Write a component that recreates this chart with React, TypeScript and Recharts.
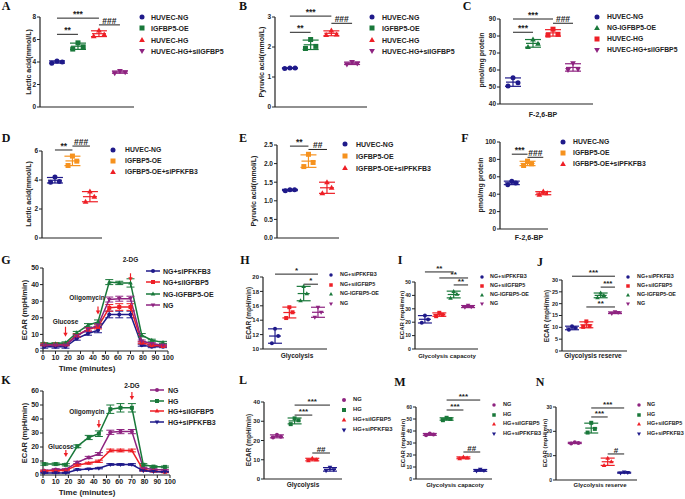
import React from "react";
import {
  ScatterChart, Scatter, LineChart, Line, XAxis, YAxis, ErrorBar,
  ReferenceLine, ReferenceDot,
} from "recharts";

const SANS = '"Liberation Sans", Arial, Helvetica, sans-serif';
const SERIF = '"Liberation Serif", "Times New Roman", serif';
const INK = "#222";
const NAVY = "#1f1a8a";
const GREEN = "#19783a";
const RED = "#ee1f26";
const PURPLE = "#8e2380";
const ORANGE = "#f6921e";

type Shape = "circle" | "square" | "tri" | "itri";

// ---------- A: lactic acid, HG / siIGFBP5
const A_NAMES = ["HUVEC-NG", "IGFBP5-OE", "HUVEC-HG", "HUVEC-HG+siIGFBP5"];
const A_VALUES = [[3.9, 4.1, 4.0], [5.15, 5.7, 5.35], [6.3, 6.8, 6.45], [3.0, 3.2, 3.1]];
const A_TICKS = [0, 2, 4, 6, 8];

// ---------- B: pyruvic acid
const B_NAMES = ["HUVEC-NG", "IGFBP5-OE", "HUVEC-HG", "HUVEC-HG+siIGFBP5"];
const B_VALUES = [[1.28, 1.3, 1.3], [1.95, 2.25, 2.02], [2.4, 2.55, 2.42], [1.42, 1.5, 1.45]];
const B_TICKS = [0, 1, 2, 3];

// ---------- C: F-2,6-BP
const C_NAMES = ["HUVEC-NG", "NG-IGFBP5-OE", "HUVEC-HG", "HUVEC-HG+siIGFBP5"];
const C_VALUES = [[50.6, 55.5, 52.5], [73.5, 78, 75.5], [80.5, 84, 81], [60, 64, 60.5]];
const C_TICKS = [40, 50, 60, 70, 80, 90];

// ---------- D/E/F: siPFKFB3 rescue
const DEF_NAMES = ["HUVEC-NG", "IGFBP5-OE", "IGFBP5-OE+siPFKFB3"];
const D_VALUES = [[3.85, 4.2, 3.9], [5.0, 5.65, 5.3], [2.5, 3.2, 2.85]];
const D_TICKS = [0, 2, 4, 6];
const E_VALUES = [[1.27, 1.3, 1.3], [1.92, 2.25, 2.03], [1.2, 1.5, 1.35]];
const E_TICKS = [0, 0.5, 1, 1.5, 2, 2.5];
const F_VALUES = [[51, 55, 53], [73, 78, 75], [39.5, 43, 41]];
const F_TICKS = [0, 20, 40, 60, 80, 100];

// ---------- H/I/J: NG groups
const HIJ_NAMES = ["NG+siPFKFB3", "NG+siIGFBP5", "NG-IGFBP5-OE", "NG"];
const H_VALUES = [[10.8, 12.8, 11.8], [14.3, 15.8, 15.1], [16.7, 18.7, 17.7], [14.4, 15.8, 15.1]];
const H_TICKS = [10, 12, 14, 16, 18, 20];
const I_VALUES = [[19.5, 25, 22], [24.5, 27, 25.5], [38, 43, 41], [31, 32.5, 31.5]];
const I_TICKS = [0, 10, 20, 30, 40, 50];
const J_VALUES = [[9, 10.5, 9.7], [10.2, 12.5, 10.5], [22.5, 24.5, 23.5], [15.8, 16.5, 16.2]];
const J_TICKS = [0, 5, 10, 15, 20, 25, 30];

// ---------- L/M/N: HG groups
const LMN_NAMES = ["NG", "HG", "HG+siIGFBP5", "HG+siPFKFB3"];
const L_VALUES = [[21.5, 23, 22], [28.5, 31.5, 30.5], [9.5, 10.8, 10], [4.2, 6, 4.8]];
const L_TICKS = [0, 10, 20, 30, 40];
const M_VALUES = [[36.5, 38, 37], [49, 51, 50], [17, 18.5, 17.5], [6.5, 8, 7]];
const M_TICKS = [0, 10, 20, 30, 40, 50, 60];
const N_VALUES = [[15, 15.5, 15.2], [19.5, 23.5, 21], [6, 9, 7.5], [2.8, 3.2, 3]];
const N_TICKS = [0, 10, 20, 30];

// ---------- G/K: ECAR time course
const TIME = [1, 10, 18, 27, 36, 44, 53, 61, 70, 79, 87, 96];
const TIME_TICKS = [0, 10, 20, 30, 40, 50, 60, 70, 80, 90, 100];
const G_NAMES = ["NG+siPFKFB3", "NG+siIGFBP5", "NG-IGFBP5-OE", "NG"];
const G_SI_PFKFB3 = [2.5, 2.5, 2.5, 7.5, 10.5, 12.5, 22, 22, 22, 3.5, 2.5, 2.5];
const G_SI_PFKFB3_SD = [0.8, 0.8, 0.8, 1, 1, 1.5, 2, 2, 2, 0.6, 0.5, 0.5];
const G_SI_IGFBP5 = [4, 4, 4, 9.5, 13, 14.5, 26, 26.5, 26.5, 5, 3.5, 3];
const G_SI_IGFBP5_SD = [0.6, 0.6, 0.6, 1, 1, 1.2, 2, 2, 2, 0.6, 0.5, 0.5];
const G_OE = [4.5, 4.5, 5, 11, 15.5, 17.5, 41.5, 41, 41, 9.5, 6.5, 5.2];
const G_OE_SD = [0.5, 0.5, 0.5, 0.8, 1, 1.2, 1.5, 1, 2.5, 1, 0.6, 0.6];
const G_NG = [3.5, 3.5, 3.5, 9, 13, 15.5, 31, 31.5, 31.5, 6, 4.5, 3.5];
const G_NG_SD = [0.5, 0.5, 0.5, 0.8, 1, 1, 1.5, 1.5, 1.5, 0.6, 0.5, 0.5];
const G_TICKS = [0, 10, 20, 30, 40, 50];

const K_NAMES = ["NG", "HG", "HG+siIGFBP5", "HG+siPFKFB3"];
const K_NG = [3, 4, 4, 9, 12.5, 15, 30.5, 31, 31, 5, 4, 3.5];
const K_NG_SD = [0.5, 0.5, 0.5, 0.8, 0.8, 1, 1.5, 1.5, 1.5, 0.5, 0.5, 0.5];
const K_HG = [7.8, 7.8, 7.3, 20.5, 26.8, 29.5, 47, 48, 48, 7.3, 6, 5.8];
const K_HG_SD = [0.8, 0.8, 0.8, 1, 1.5, 2, 3, 3, 3, 0.8, 0.6, 0.6];
const K_SI_IGFBP5 = [3, 3, 3.3, 7, 8.5, 9.8, 17.5, 17.5, 17.5, 3.5, 2.7, 2];
const K_SI_IGFBP5_SD = [0.4, 0.4, 0.4, 0.6, 0.6, 0.8, 1, 1, 1, 0.4, 0.4, 0.4];
const K_SI_PFKFB3 = [1.5, 1.5, 1.5, 3.8, 4.3, 4.8, 7.5, 7.5, 7.5, 3, 2.5, 2.2];
const K_SI_PFKFB3_SD = [0.3, 0.3, 0.3, 0.4, 0.4, 0.4, 0.6, 0.6, 0.6, 0.3, 0.3, 0.3];
const K_TICKS = [0, 10, 20, 30, 40, 50, 60];

const JITTER = [-1, 0, 1];

const avg = (v: number[]) => v.reduce((a, b) => a + b, 0) / v.length;
const sdev = (v: number[]) => {
  const m = avg(v);
  return Math.sqrt(v.reduce((a, b) => a + (b - m) * (b - m), 0) / (v.length - 1));
};

function Marker({ shape, cx, cy, size, color }: { shape: Shape; cx: number; cy: number; size: number; color: string }) {
  const s = size / 2;
  if (shape === "circle") return <circle cx={cx} cy={cy} r={s} fill={color} />;
  if (shape === "square") return <rect x={cx - s} y={cy - s} width={size} height={size} fill={color} />;
  if (shape === "tri")
    return <polygon points={`${cx},${cy - s * 1.2} ${cx - s * 1.15},${cy + s * 0.8} ${cx + s * 1.15},${cy + s * 0.8}`} fill={color} />;
  return <polygon points={`${cx},${cy + s * 1.2} ${cx - s * 1.15},${cy - s * 0.8} ${cx + s * 1.15},${cy - s * 0.8}`} fill={color} />;
}

interface Sig { a: number; b: number; y: number; t: string }
interface Legend { mx: number; tx: number; y0: number; gap: number; fs: number; ms: number; line?: boolean }

function LegendBlock({ lg, names, shapes, colors }: { lg: Legend; names: string[]; shapes: Shape[]; colors: string[] }) {
  return (
    <>
      {names.map((n, i) => (
        <div key={n} style={{ position: "absolute", left: 0, top: lg.y0 + i * lg.gap, width: 685, height: 0 }}>
          <svg style={{ position: "absolute", left: lg.mx - 8, top: -5 }} width={16} height={10}>
            {lg.line && <line x1={1} x2={15} y1={5} y2={5} stroke={colors[i]} strokeWidth={1.5} />}
            <Marker shape={shapes[i]} cx={8} cy={5} size={lg.ms} color={colors[i]} />
          </svg>
          <span style={{ position: "absolute", left: lg.tx, top: 0, transform: "translateY(-50%)", fontSize: lg.fs, fontWeight: 700, color: INK, whiteSpace: "nowrap", lineHeight: 1 }}>
            {n}
          </span>
        </div>
      ))}
    </>
  );
}

function Letter({ t, at }: { t: string; at: [number, number] }) {
  return (
    <div style={{ position: "absolute", left: at[0], top: at[1], transform: "translate(-50%,-50%)", fontFamily: SERIF, fontWeight: 700, fontSize: 12, color: "#111", lineHeight: 1 }}>
      {t}
    </div>
  );
}

function YTitle({ t, at, fs }: { t: string; at: [number, number]; fs: number }) {
  return (
    <div style={{ position: "absolute", left: at[0], top: at[1], transform: "translate(-50%,-50%) rotate(-90deg)", fontSize: fs, fontWeight: 700, color: INK, whiteSpace: "nowrap", lineHeight: 1 }}>
      {t}
    </div>
  );
}

function XTitle({ t, at, fs }: { t: string; at: [number, number]; fs: number }) {
  return (
    <div style={{ position: "absolute", left: at[0], top: at[1], transform: "translate(-50%,-50%)", fontSize: fs, fontWeight: 700, color: INK, whiteSpace: "nowrap", lineHeight: 1 }}>
      {t}
    </div>
  );
}

interface DotSpec {
  letter: string; letterAt: [number, number];
  box: [number, number, number, number];
  xDomain: [number, number];
  yTicks: number[];
  decimals?: number;
  yLabel: string; yLabelAt: [number, number];
  xLabel?: string; xLabelAt?: [number, number];
  names: string[]; shapes: Shape[]; colors: string[]; values: number[][];
  sigs: Sig[];
  legend: Legend;
  ms: number; spread: number; cap: number; meanW: number; fs: number; titleFs: number; sigFs: number;
}

function DotPanel({ s }: { s: DotSpec }) {
  const [x0, x1, yT, yB] = s.box;
  const L = 40, R = 4, T = 30, B = 6;
  const yDomain: [number, number] = [s.yTicks[0], s.yTicks[s.yTicks.length - 1]];
  return (
    <>
      <div style={{ position: "absolute", left: x0 - L, top: yT - T }}>
        <ScatterChart width={x1 - x0 + L + R} height={yB - yT + T + B} margin={{ top: T, right: R, bottom: 0, left: 0 }}>
          <XAxis type="number" dataKey="x" domain={s.xDomain} allowDataOverflow tick={false} tickLine={false}
            axisLine={{ stroke: INK, strokeWidth: 1.2 }} height={B} />
          <YAxis type="number" dataKey="y" domain={yDomain} ticks={s.yTicks} interval={0} allowDataOverflow width={L}
            tickSize={3} tickMargin={1} axisLine={{ stroke: INK, strokeWidth: 1.2 }} tickLine={{ stroke: INK }}
            tick={{ fontSize: s.fs, fontWeight: 700, fill: INK, fontFamily: SANS }}
            tickFormatter={(v: number) => (s.decimals ? v.toFixed(s.decimals) : String(v))} />
          {s.values.map((vals, gi) => (
            <Scatter key={"p" + gi} data={vals.map((v, k) => ({ x: gi + 1 + JITTER[k] * s.spread, y: v }))}
              isAnimationActive={false}
              shape={(p: any) => <Marker shape={s.shapes[gi]} cx={p.cx} cy={p.cy} size={s.ms} color={s.colors[gi]} />} />
          ))}
          {s.values.map((vals, gi) => (
            <Scatter key={"m" + gi} data={[{ x: gi + 1, y: avg(vals), sd: sdev(vals) }]} isAnimationActive={false}
              shape={(p: any) => <line x1={p.cx - s.meanW / 2} x2={p.cx + s.meanW / 2} y1={p.cy} y2={p.cy} stroke={s.colors[gi]} strokeWidth={1.2} />}>
              <ErrorBar dataKey="sd" direction="y" width={s.cap} stroke={s.colors[gi]} strokeWidth={1.2} />
            </Scatter>
          ))}
          {s.sigs.map((g, i) => (
            <ReferenceLine key={"s" + i} segment={[{ x: g.a, y: g.y }, { x: g.b, y: g.y }]} ifOverflow="visible"
              stroke={INK} strokeWidth={1}
              label={{ value: g.t, position: "top", offset: 1, fontSize: s.sigFs, fontWeight: 700, fill: INK, fontFamily: SANS }} />
          ))}
        </ScatterChart>
      </div>
      <Letter t={s.letter} at={s.letterAt} />
      <YTitle t={s.yLabel} at={s.yLabelAt} fs={s.titleFs} />
      {s.xLabel && s.xLabelAt && <XTitle t={s.xLabel} at={s.xLabelAt} fs={s.titleFs} />}
      <LegendBlock lg={s.legend} names={s.names} shapes={s.shapes} colors={s.colors} />
    </>
  );
}

interface Series { shape: Shape; color: string; values: number[]; sd: number[] }
interface Note { x: number; y: number; len: number; gap: number; dx: number; t: string }
interface TimeSpec {
  letter: string; letterAt: [number, number];
  box: [number, number, number, number];
  yTicks: number[];
  names: string[];
  series: Series[];
  notes: Note[];
  legend: Legend;
  yLabelAt: [number, number]; xLabelAt: [number, number];
}

function TimePanel({ s }: { s: TimeSpec }) {
  const [x0, x1, yT, yB] = s.box;
  const L = 40, R = 6, T = 30, B = 14;
  const data = TIME.map((t, i) => {
    const row: Record<string, number> = { t };
    s.series.forEach((sr, k) => { row["v" + k] = sr.values[i]; row["e" + k] = sr.sd[i]; });
    return row;
  });
  const tickStyle = { fontSize: 7, fontWeight: 700, fill: INK, fontFamily: SANS };
  return (
    <>
      <div style={{ position: "absolute", left: x0 - L, top: yT - T }}>
        <LineChart width={x1 - x0 + L + R} height={yB - yT + T + B} data={data} margin={{ top: T, right: R, bottom: 0, left: 0 }}>
          <XAxis type="number" dataKey="t" domain={[0, 100]} ticks={TIME_TICKS} interval={0} height={B}
            tickSize={3} tickMargin={1} axisLine={{ stroke: INK, strokeWidth: 1.2 }} tickLine={{ stroke: INK }} tick={tickStyle} />
          <YAxis type="number" domain={[0, s.yTicks[s.yTicks.length - 1]]} ticks={s.yTicks} interval={0} width={L}
            tickSize={3} tickMargin={1} axisLine={{ stroke: INK, strokeWidth: 1.2 }} tickLine={{ stroke: INK }} tick={tickStyle} />
          {s.series.map((sr, k) => (
            <Line key={k} dataKey={"v" + k} stroke={sr.color} strokeWidth={1.5} isAnimationActive={false}
              dot={(p: any) => <Marker key={`${k}-${p.index}`} shape={sr.shape} cx={p.cx} cy={p.cy} size={4} color={sr.color} />}>
              <ErrorBar dataKey={"e" + k} direction="y" width={4} stroke={sr.color} strokeWidth={1} />
            </Line>
          ))}
          {s.notes.map((n, i) => (
            <ReferenceDot key={"n" + i} x={n.x} y={n.y} r={0} ifOverflow="visible"
              shape={(p: any) => (
                <g>
                  <line x1={p.cx} x2={p.cx} y1={p.cy - n.len} y2={p.cy - 2} stroke={RED} strokeWidth={1.2} />
                  <polygon points={`${p.cx},${p.cy} ${p.cx - 2.2},${p.cy - 4} ${p.cx + 2.2},${p.cy - 4}`} fill={RED} />
                  <text x={p.cx + n.dx} y={p.cy - n.gap} textAnchor="middle" dominantBaseline="middle"
                    fontSize={6.5} fontWeight={700} fill={INK} fontFamily={SANS}>{n.t}</text>
                </g>
              )} />
          ))}
        </LineChart>
      </div>
      <Letter t={s.letter} at={s.letterAt} />
      <YTitle t="ECAR (mpH/min)" at={s.yLabelAt} fs={7.5} />
      <XTitle t="Time (minutes)" at={s.xLabelAt} fs={8} />
      <LegendBlock lg={s.legend} names={s.names} shapes={s.series.map((x) => x.shape)} colors={s.series.map((x) => x.color)} />
    </>
  );
}

const SH4: Shape[] = ["circle", "square", "tri", "itri"];
const COL_A = [NAVY, GREEN, RED, PURPLE];
const SH_C: Shape[] = ["circle", "tri", "square", "itri"];
const SH3: Shape[] = ["circle", "square", "tri"];
const COL_DEF = [NAVY, ORANGE, RED];
const COL_HIJ = [NAVY, RED, GREEN, PURPLE];
const COL_LMN = [PURPLE, GREEN, RED, NAVY];
const BIG = { ms: 5, spread: 0.25, cap: 8, meanW: 14, fs: 6.5, titleFs: 7, sigFs: 8.5 };
const SMALL = { ms: 4, spread: 0.22, cap: 7, meanW: 12, fs: 6, titleFs: 6.5, sigFs: 8 };

const DOTS: DotSpec[] = [
  {
    letter: "A", letterAt: [6, 6], box: [40, 134, 17, 107], xDomain: [0.19, 4.67], yTicks: A_TICKS,
    yLabel: "Lactic acid(mmol/L)", yLabelAt: [28, 62],
    names: A_NAMES, shapes: SH4, colors: COL_A, values: A_VALUES,
    sigs: [{ a: 1, b: 3, y: 7.9, t: "***" }, { a: 1, b: 2, y: 6.46, t: "**" }, { a: 3, b: 4, y: 7.3, t: "###" }],
    legend: { mx: 142, tx: 151, y0: 17, gap: 11.3, fs: 7, ms: 5 }, ...BIG,
  },
  {
    letter: "B", letterAt: [243, 6], box: [275, 367, 17, 107], xDomain: [0.28, 4.72], yTicks: B_TICKS,
    yLabel: "Pyruvic acid(mmol/L)", yLabelAt: [261, 62],
    names: B_NAMES, shapes: SH4, colors: COL_A, values: B_VALUES,
    sigs: [{ a: 1, b: 3, y: 3.03, t: "***" }, { a: 1, b: 2, y: 2.49, t: "**" }, { a: 3, b: 4, y: 2.79, t: "###" }],
    legend: { mx: 372, tx: 382, y0: 17, gap: 11.3, fs: 7, ms: 5 }, ...BIG,
  },
  {
    letter: "C", letterAt: [467, 6], box: [500, 593, 19, 104], xDomain: [0.35, 5.0], yTicks: C_TICKS,
    yLabel: "pmol/mg protein", yLabelAt: [481, 60], xLabel: "F-2,6-BP", xLabelAt: [543, 114],
    names: C_NAMES, shapes: SH_C, colors: COL_A, values: C_VALUES,
    sigs: [{ a: 1, b: 3, y: 90, t: "***" }, { a: 1, b: 2, y: 82.2, t: "***" }, { a: 3, b: 4, y: 87.5, t: "###" }],
    legend: { mx: 597, tx: 607, y0: 17, gap: 11, fs: 6.8, ms: 5 }, ...BIG,
  },
  {
    letter: "D", letterAt: [6, 138], box: [42, 102, 151, 238], xDomain: [0.26, 3.69], yTicks: D_TICKS,
    yLabel: "Lactic acid(mmol/L)", yLabelAt: [28, 194],
    names: DEF_NAMES, shapes: SH3, colors: COL_DEF, values: D_VALUES,
    sigs: [{ a: 1, b: 2, y: 6.07, t: "**" }, { a: 2, b: 3, y: 6.34, t: "###" }],
    legend: { mx: 113, tx: 125, y0: 150, gap: 11, fs: 6.8, ms: 5 }, ...BIG,
  },
  {
    letter: "E", letterAt: [243, 138], box: [277, 339, 145, 238], xDomain: [0.3, 3.65], yTicks: E_TICKS, decimals: 1,
    yLabel: "Pyruvic acid(mmol/L)", yLabelAt: [253, 191],
    names: DEF_NAMES, shapes: SH3, colors: COL_DEF, values: E_VALUES,
    sigs: [{ a: 1, b: 2, y: 2.47, t: "**" }, { a: 2, b: 3, y: 2.38, t: "##" }],
    legend: { mx: 345, tx: 356, y0: 144, gap: 12, fs: 7, ms: 5 }, ...BIG,
  },
  {
    letter: "F", letterAt: [465, 138], box: [500, 548, 142, 229], xDomain: [0.25, 3.3], yTicks: F_TICKS,
    yLabel: "pmol/mg protein", yLabelAt: [480, 185], xLabel: "F-2,6-BP", xLabelAt: [529, 237],
    names: DEF_NAMES, shapes: SH3, colors: COL_DEF, values: F_VALUES,
    sigs: [{ a: 1, b: 2, y: 86, t: "***" }, { a: 2, b: 3, y: 82.4, t: "###" }],
    legend: { mx: 563, tx: 573, y0: 142, gap: 11, fs: 6.8, ms: 5 }, ...BIG,
  },
  {
    letter: "H", letterAt: [245, 260], box: [263, 327, 277, 349], xDomain: [0.16, 4.63], yTicks: H_TICKS,
    yLabel: "ECAR (mpH/min)", yLabelAt: [249, 313], xLabel: "Glycolysis", xLabelAt: [297, 356],
    names: HIJ_NAMES, shapes: SH4, colors: COL_HIJ, values: H_VALUES,
    sigs: [{ a: 1, b: 4, y: 20.4, t: "*" }, { a: 3, b: 4, y: 19.0, t: "*" }],
    legend: { mx: 331, tx: 340, y0: 275, gap: 9.5, fs: 5.4, ms: 3.5 }, ...SMALL,
  },
  {
    letter: "I", letterAt: [400, 260], box: [415, 478, 282, 349], xDomain: [0.31, 4.69], yTicks: I_TICKS,
    yLabel: "ECAR (mpH/min)", yLabelAt: [402, 315], xLabel: "Glycolysis capacoty", xLabelAt: [447, 356],
    names: HIJ_NAMES, shapes: SH4, colors: COL_HIJ, values: I_VALUES,
    sigs: [{ a: 1, b: 3, y: 57.5, t: "**" }, { a: 2, b: 4, y: 53, t: "**" }, { a: 3, b: 4, y: 47.8, t: "**" }],
    legend: { mx: 482, tx: 490, y0: 277, gap: 9, fs: 5.4, ms: 3.5 }, ...SMALL, fs: 5.2, titleFs: 6,
  },
  {
    letter: "J", letterAt: [540, 262], box: [562, 627, 280, 351], xDomain: [0.3, 4.84], yTicks: J_TICKS,
    yLabel: "ECAR (mpH/min)", yLabelAt: [547, 316], xLabel: "Glycolysis reserve", xLabelAt: [593, 356],
    names: HIJ_NAMES, shapes: SH4, colors: COL_HIJ, values: J_VALUES,
    sigs: [{ a: 1, b: 4, y: 31.6, t: "***" }, { a: 3, b: 4, y: 27, t: "***" }, { a: 2, b: 4, y: 18.6, t: "**" }],
    legend: { mx: 628, tx: 637, y0: 277, gap: 9, fs: 5.4, ms: 3.5 }, ...SMALL, fs: 5.5,
  },
  {
    letter: "L", letterAt: [243, 380], box: [264, 342, 402, 479], xDomain: [0.27, 4.68], yTicks: L_TICKS,
    yLabel: "ECAR (mpH/min)", yLabelAt: [249, 440], xLabel: "Glycolysis", xLabelAt: [303, 485],
    names: LMN_NAMES, shapes: SH4, colors: COL_LMN, values: L_VALUES,
    sigs: [{ a: 2, b: 4, y: 38.4, t: "***" }, { a: 2, b: 3, y: 33.2, t: "***" }, { a: 3, b: 4, y: 13.5, t: "##" }],
    legend: { mx: 344, tx: 353, y0: 400, gap: 10, fs: 5.8, ms: 4 }, ...SMALL,
  },
  {
    letter: "M", letterAt: [400, 382], box: [416, 492, 407, 479], xDomain: [0.18, 4.7], yTicks: M_TICKS,
    yLabel: "ECAR (mpH/min)", yLabelAt: [403, 443], xLabel: "Glycolysis capacoty", xLabelAt: [455, 485],
    names: LMN_NAMES, shapes: SH4, colors: COL_LMN, values: M_VALUES,
    sigs: [{ a: 2, b: 4, y: 65.8, t: "***" }, { a: 2, b: 3, y: 57.5, t: "***" }, { a: 3, b: 4, y: 22.5, t: "##" }],
    legend: { mx: 494, tx: 503, y0: 405, gap: 9.5, fs: 5.6, ms: 3.5 }, ...SMALL, fs: 5, titleFs: 6,
  },
  {
    letter: "N", letterAt: [540, 382], box: [556, 637, 407, 480], xDomain: [-0.14, 4.78], yTicks: N_TICKS,
    yLabel: "ECAR (mpH/min)", yLabelAt: [545, 443], xLabel: "Glycolysis reserve", xLabelAt: [600, 485],
    names: LMN_NAMES, shapes: SH4, colors: COL_LMN, values: N_VALUES,
    sigs: [{ a: 2, b: 4, y: 29.6, t: "***" }, { a: 2, b: 3, y: 25.9, t: "***" }, { a: 3, b: 4, y: 10.7, t: "#" }],
    legend: { mx: 639, tx: 647, y0: 405, gap: 9.5, fs: 5.4, ms: 3.5 }, ...SMALL, fs: 5, titleFs: 6,
  },
];

const TIMES: TimeSpec[] = [
  {
    letter: "G", letterAt: [6, 260], box: [43, 168, 268, 351], yTicks: G_TICKS, names: G_NAMES,
    series: [
      { shape: "circle", color: NAVY, values: G_SI_PFKFB3, sd: G_SI_PFKFB3_SD },
      { shape: "square", color: RED, values: G_SI_IGFBP5, sd: G_SI_IGFBP5_SD },
      { shape: "tri", color: GREEN, values: G_OE, sd: G_OE_SD },
      { shape: "itri", color: PURPLE, values: G_NG, sd: G_NG_SD },
    ],
    notes: [
      { x: 18, y: 8.6, len: 10, gap: 14, dx: 0, t: "Glucose" },
      { x: 44, y: 22, len: 8, gap: 16, dx: -11, t: "Oligomycin" },
      { x: 70, y: 42, len: 8, gap: 21, dx: 0, t: "2-DG" },
    ],
    legend: { mx: 153, tx: 163, y0: 271, gap: 11.3, fs: 7, ms: 4, line: true },
    yLabelAt: [25, 310], xLabelAt: [87, 369],
  },
  {
    letter: "K", letterAt: [6, 380], box: [43, 170, 391, 475], yTicks: K_TICKS, names: K_NAMES,
    series: [
      { shape: "circle", color: PURPLE, values: K_NG, sd: K_NG_SD },
      { shape: "square", color: GREEN, values: K_HG, sd: K_HG_SD },
      { shape: "tri", color: RED, values: K_SI_IGFBP5, sd: K_SI_IGFBP5_SD },
      { shape: "itri", color: NAVY, values: K_SI_PFKFB3, sd: K_SI_PFKFB3_SD },
    ],
    notes: [
      { x: 18, y: 12.9, len: 7, gap: 10, dx: -5, t: "Glucose" },
      { x: 44, y: 33.6, len: 8, gap: 16, dx: -12, t: "Oligomycin" },
      { x: 70, y: 53.6, len: 8, gap: 14, dx: 0, t: "2-DG" },
    ],
    legend: { mx: 157, tx: 168, y0: 390, gap: 10.7, fs: 7, ms: 4, line: true },
    yLabelAt: [25, 433], xLabelAt: [87, 493],
  },
];

export default function App() {
  return (
    <div style={{ position: "absolute", left: 0, top: 0, width: 685, height: 499, background: "#fff", fontFamily: SANS, overflow: "hidden" }}>
      {DOTS.map((s) => <DotPanel key={s.letter} s={s} />)}
      {TIMES.map((s) => <TimePanel key={s.letter} s={s} />)}
    </div>
  );
}
